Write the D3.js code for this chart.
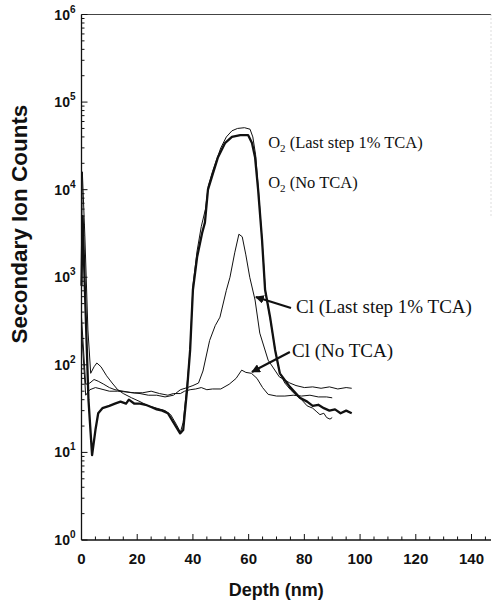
<!DOCTYPE html>
<html>
<head>
<meta charset="utf-8">
<script src="https://cdnjs.cloudflare.com/ajax/libs/d3/7.8.5/d3.min.js"></script>
<style>
  html, body { margin: 0; padding: 0; background: #fff; }
  svg { display: block; }
</style>
</head>
<body>
<div id="chart"></div>
<script>
// depth (nm), secondary ion counts
var o2Tca = [[0,1500],[0.3,16000],[1.2,3000],[2.3,250],[3.3,80],[4.5,95],[5.5,105],[7,95],[9,75],[11,62],[13,52],[15,47],[18,42],[21,38],[24,34],[27,32],[30,30],[32,27],[34,21],[35.5,17],[36.5,22],[37.8,55],[39,150],[40,800],[41.5,2000],[43,3800],[44.5,6000],[45.5,11000],[47,16000],[48.5,22000],[50,30000],[52,40000],[54,47000],[56,50000],[58.5,51000],[60.5,49000],[61.5,40000],[62.5,25000],[63.5,10000],[64.8,2700],[66,700],[67.7,340],[69.5,150],[71.2,80],[73,62],[75,52],[77,45],[79,40],[81,34],[83,32],[84.5,29],[85.6,27],[87,28],[88,25],[89.2,24],[90,25]];
var o2NoTca = [[0,800],[0.4,5000],[1.3,600],[2.5,40],[3.8,9.3],[5,18],[6,28],[7.5,32],[10,34],[12,36],[14,38],[16,36],[17,40],[19,36],[21,36],[23,35],[25,33],[27,31],[29,30],[31,28],[33,22],[35.4,16.5],[36.5,18],[37.9,52],[39,148],[40,720],[41.5,1700],[43.3,3200],[44.3,4200],[45.4,10000],[46.8,14000],[49,23500],[51.5,34000],[54,40000],[57,42000],[59.8,42000],[61.2,34000],[62.3,23500],[63.4,10000],[64.8,2700],[65.9,720],[67.7,350],[69.5,148],[71.2,80],[74.8,56],[78.4,42],[81,38],[83,34],[85,35],[87,32],[89,30],[91,31],[93,28],[95,30],[97,28]];
var clTca = [[0,350],[1.5,60],[3,62],[4.5,68],[6,65],[8,60],[10,55],[12,52],[15,50],[18,48],[21,47],[24,45],[27,45],[30,43],[33,45],[35.5,52],[38,55],[40,58],[42,62],[43.6,85],[46,190],[48,280],[49.7,350],[52,710],[53.3,1000],[55,1900],[56.5,3100],[57.7,2900],[59,1800],[60.4,1000],[62.3,550],[64,230],[67,113],[71,73],[74.8,62],[77,58],[80,55],[83,56],[86,54],[89,56],[92,53],[95,55],[97,54]];
var clNoTca = [[0,250],[1.5,45],[3,52],[5,55],[7,53],[10,50],[13,50],[16,49],[19,48],[22,48],[25,50],[28,47],[31,45],[33,47],[35.5,47],[37,50],[39,52],[41,53],[43,55],[45,52],[47,53],[50,53],[53,60],[55.5,70],[57.5,87],[59,82],[61,80],[63,70],[65,55],[67,46],[70,44],[73,44],[76,45],[79,44],[82,45],[85,43],[88,43],[90,42]];

var xTicks = [0, 20, 40, 60, 80, 100, 120, 140];
var yTicks = [1, 10, 100, 1000, 10000, 100000, 1000000];

// labels: [text, subscript, rest, x, y]
var labels = [
  ['O', '2', ' (Last step 1% TCA)', 67, 30000],
  ['O', '2', ' (No TCA)', 67, 10400],
  ['Cl', '', ' (Last step 1% TCA)', 77, 390],
  ['Cl', '', ' (No TCA)', 75.6, 123]
];
// arrows: [fromX, fromY, toX, toY]
var arrows = [
  [75.2, 445, 62.6, 595],
  [74.8, 140, 61.2, 83]
];

var width = 493, height = 606;
var svg = d3.select('#chart').append('svg')
  .attr('width', width)
  .attr('height', height);

var x = d3.scaleLinear().domain([0, 147]).range([81.5, 491]);
var y = d3.scaleLog().domain([1, 1e6]).range([540, 14.5]);

var ink = '#111';

// frame top + faint right edge
svg.append('line')
  .attr('x1', x(0)).attr('x2', x(147))
  .attr('y1', y(1e6)).attr('y2', y(1e6))
  .attr('stroke', '#444').attr('stroke-width', 1);
svg.append('line')
  .attr('x1', x(147)).attr('x2', x(147))
  .attr('y1', y(1e6)).attr('y2', y(5e3))
  .attr('stroke', '#bbb').attr('stroke-width', 1).attr('stroke-dasharray', '1,3');

// x axis with inward ticks
var xMinor = d3.range(0, 150, 5);
var gx = svg.append('g').attr('transform', 'translate(0,' + y(1) + ')');
gx.append('line').attr('x1', x(0)).attr('x2', x(147)).attr('stroke', ink).attr('stroke-width', 1.3);
gx.selectAll('.xt').data(xMinor).enter().append('line')
  .attr('x1', d => x(d)).attr('x2', d => x(d))
  .attr('y1', 0).attr('y2', d => d % 20 == 0 ? -6 : -3.5)
  .attr('stroke', ink).attr('stroke-width', 1);
gx.selectAll('.xl').data(xTicks).enter().append('text')
  .attr('x', d => x(d)).attr('y', 24)
  .attr('text-anchor', 'middle')
  .attr('font-family', 'Liberation Sans, Arial, sans-serif')
  .attr('font-weight', 'bold').attr('font-size', 15)
  .attr('fill', ink)
  .text(d => d);

// y axis with log minor ticks
var yMinor = [];
for (var e = 0; e < 6; e++) for (var m = 2; m < 10; m++) yMinor.push(m * Math.pow(10, e));
var gy = svg.append('g').attr('transform', 'translate(' + x(0) + ',0)');
gy.append('line').attr('y1', y(1)).attr('y2', y(1e6)).attr('stroke', ink).attr('stroke-width', 1.3);
gy.selectAll('.ym').data(yMinor).enter().append('line')
  .attr('y1', d => y(d)).attr('y2', d => y(d))
  .attr('x1', 0).attr('x2', 3)
  .attr('stroke', ink).attr('stroke-width', 1);
gy.selectAll('.yt').data(yTicks).enter().append('line')
  .attr('y1', d => y(d)).attr('y2', d => y(d))
  .attr('x1', 0).attr('x2', 6)
  .attr('stroke', ink).attr('stroke-width', 1);
var yl = gy.selectAll('.yl').data(yTicks).enter().append('text')
  .attr('x', -6).attr('y', d => y(d) + 5)
  .attr('text-anchor', 'end')
  .attr('font-family', 'Liberation Sans, Arial, sans-serif')
  .attr('font-weight', 'bold').attr('font-size', 14)
  .attr('fill', ink);
yl.append('tspan').text('10');
yl.append('tspan').attr('dy', -7).attr('font-size', 10).text(d => Math.round(Math.log10(d)));

// axis titles
svg.append('text')
  .attr('x', (x(0) + x(147)) / 2 - 10).attr('y', 596)
  .attr('text-anchor', 'middle')
  .attr('font-family', 'Liberation Sans, Arial, sans-serif')
  .attr('font-weight', 'bold').attr('font-size', 18)
  .attr('fill', ink)
  .text('Depth (nm)');
svg.append('text')
  .attr('transform', 'translate(27,' + 224 + ') rotate(-90)')
  .attr('text-anchor', 'middle')
  .attr('font-family', 'Liberation Sans, Arial, sans-serif')
  .attr('font-weight', 'bold').attr('font-size', 22.5)
  .attr('fill', ink)
  .text('Secondary Ion Counts');

// curves
var line = d3.line().x(d => x(d[0])).y(d => y(d[1]));
var series = [
  { data: clNoTca, w: 1 },
  { data: clTca, w: 1 },
  { data: o2Tca, w: 1 },
  { data: o2NoTca, w: 2.3 }
];
svg.selectAll('.curve').data(series).enter().append('path')
  .attr('d', d => line(d.data))
  .attr('fill', 'none')
  .attr('stroke', ink)
  .attr('stroke-width', d => d.w)
  .attr('stroke-linejoin', 'round');

// arrow heads
svg.append('defs').append('marker')
  .attr('id', 'head')
  .attr('viewBox', '0 0 10 10')
  .attr('refX', 9).attr('refY', 5)
  .attr('markerWidth', 4).attr('markerHeight', 4)
  .attr('orient', 'auto')
  .append('path').attr('d', 'M0,0L10,5L0,10z').attr('fill', ink);

svg.selectAll('.arrow').data(arrows).enter().append('line')
  .attr('x1', d => x(d[0])).attr('y1', d => y(d[1]))
  .attr('x2', d => x(d[2])).attr('y2', d => y(d[3]))
  .attr('stroke', ink).attr('stroke-width', 2.2)
  .attr('marker-end', 'url(#head)');

// series labels
var lt = svg.selectAll('.lab').data(labels).enter().append('text')
  .attr('x', d => x(d[3])).attr('y', d => y(d[4]))
  .attr('font-family', 'Liberation Serif, Times New Roman, serif')
  .attr('font-size', d => d[1] ? 16.5 : 19)
  .attr('fill', ink);
lt.append('tspan').text(d => d[0]);
lt.append('tspan').attr('dy', d => d[1] ? 4 : 0).attr('font-size', 11).text(d => d[1]);
lt.append('tspan').attr('dy', d => d[1] ? -4 : 0).text(d => d[2]);
</script>
</body>
</html>
